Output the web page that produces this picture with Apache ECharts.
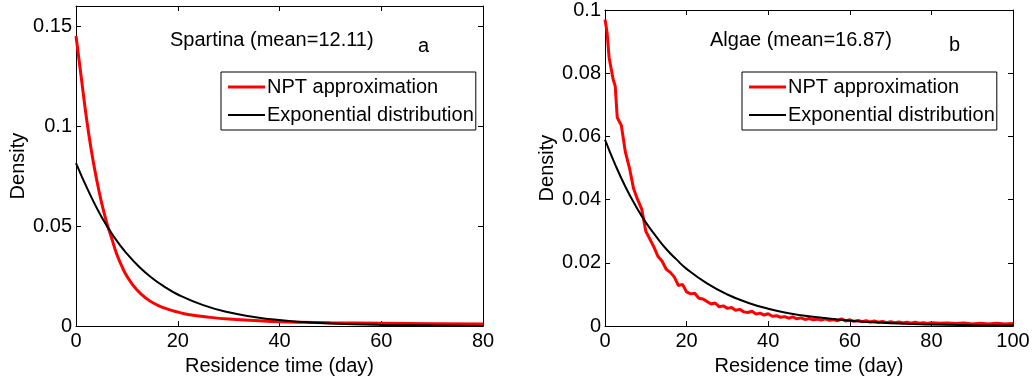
<!DOCTYPE html>
<html>
<head>
<meta charset="utf-8">
<script src="https://cdn.jsdelivr.net/npm/echarts@6/dist/echarts.min.js"></script>
<style>
	html,body{margin:0;padding:0;background:#fff;}
	#wrap{width:1033px;height:381px;}
</style>
</head>
<body>
<div id="wrap"></div>
<script>
// panel a - Spartina
var daysA_npt = [0, 1, 2, 3, 4, 5, 6, 7, 8, 9, 10, 12, 14, 16, 18, 20, 22, 25, 30, 35, 40, 50, 60, 70, 80];
var valsA_npt = [0.145, 0.125, 0.105, 0.088, 0.074, 0.062, 0.052, 0.044, 0.036, 0.030, 0.025, 0.018, 0.0135, 0.0105, 0.0085, 0.007, 0.0058, 0.0048, 0.0035, 0.0028, 0.0022, 0.0017, 0.0014, 0.0012, 0.001];
var daysA_exp = [0, 2.5, 5, 7.5, 10, 12.5, 15, 17.5, 20, 25, 30, 35, 40, 45, 50, 60, 70, 80];
var valsA_exp = [0.0815, 0.0672, 0.0547, 0.0445, 0.0362, 0.0294, 0.0239, 0.0195, 0.0158, 0.0105, 0.0069, 0.0046, 0.0030, 0.0020, 0.0013, 0.0006, 0.0003, 0.0001];

// panel b - Algae
var daysB_npt = [0, 0.5, 1, 2, 2.5, 3, 4, 5, 6, 7, 8, 9, 10, 11, 12, 13, 14, 15, 16, 17, 18, 19, 20, 21, 22, 23, 24, 25, 26, 27, 28, 29, 30,
	31, 32, 33, 34, 35, 36, 37, 38, 39, 40, 41, 42, 43, 44, 45, 46, 47, 48, 49, 50, 51, 52, 53, 54, 55, 56, 57, 58, 59, 60,
	61, 62, 63, 64, 65, 66, 67, 68, 69, 70, 71, 72, 73, 74, 75, 76, 77, 78, 79, 80, 82, 84, 86, 88, 90, 92, 94, 96, 98, 100];
var valsB_npt = [0.097, 0.093, 0.085, 0.078, 0.076, 0.066, 0.0635, 0.055, 0.050, 0.0435, 0.040, 0.037, 0.030, 0.0275, 0.025, 0.022, 0.0205, 0.018, 0.017, 0.0155, 0.0128, 0.0132, 0.0108,
	0.0102, 0.0104, 0.0088, 0.0086, 0.0078, 0.0070, 0.0073, 0.0061, 0.0064, 0.0056,
	0.0059, 0.0050, 0.0053, 0.0045, 0.0043, 0.0047, 0.0038, 0.0041, 0.0035, 0.0039, 0.0031, 0.0033, 0.0028, 0.0030, 0.0025, 0.0029, 0.0023, 0.0026, 0.0021, 0.0024,
	0.0020, 0.0022, 0.0019, 0.0023, 0.0018, 0.0021, 0.0017, 0.0023, 0.0016, 0.0020,
	0.0015, 0.0018, 0.0014, 0.0017, 0.0013, 0.0016, 0.0012, 0.0015, 0.0011, 0.0014, 0.0011, 0.0013, 0.0010, 0.0012, 0.0009, 0.0012, 0.0009, 0.0011, 0.0008, 0.0011,
	0.0009, 0.0010, 0.0008, 0.0010, 0.0007, 0.0009, 0.0007, 0.0009, 0.0007, 0.0008];
var daysB_exp = [0, 2.5, 5, 7.5, 10, 12.5, 15, 17.5, 20, 25, 30, 35, 40, 45, 50, 60, 70, 80, 90, 100];
var valsB_exp = [0.0590, 0.0511, 0.0441, 0.0381, 0.0328, 0.0284, 0.0244, 0.0211, 0.0181, 0.0135, 0.0100, 0.0074, 0.0055, 0.0041, 0.0031, 0.0017, 0.0009, 0.0005, 0.0003, 0.0002];

var xTicksA = [0, 20, 40, 60, 80];
var yTicksA = [0, 0.05, 0.1, 0.15];
var xTicksB = [0, 20, 40, 60, 80, 100];
var yTicksB = [0, 0.02, 0.04, 0.06, 0.08, 0.1];

var titles = ["Spartina (mean=12.11)", "Algae (mean=16.87)"];
var panelTags = ["a", "b"];
var seriesNames = ["NPT approximation", "Exponential distribution"];

var fontFamily = "Liberation Sans, Arial, sans-serif";
var fontSize = 20;
var textColor = "#000";

function zip(xs, ys){
	var out = [];
	for(var i=0;i<xs.length;i++){
		out.push([xs[i], ys[i]]);
	}
	return out;
}

function onTick(ticks){
	return function(v){
		for(var i=0;i<ticks.length;i++){
			if(Math.abs(ticks[i]-v) < 1e-9) return String(ticks[i]);
		}
		return "";
	};
}

function mainX(grid, ticks){
	return {
		type:"value", gridIndex:grid, min:ticks[0], max:ticks[ticks.length-1], interval:ticks[1]-ticks[0],
		name:"Residence time (day)", nameLocation:"middle", nameGap:26,
		nameTextStyle:{color:textColor, fontSize:fontSize, fontFamily:fontFamily},
		axisLine:{lineStyle:{color:textColor, width:1}},
		axisTick:{inside:true, length:5, lineStyle:{color:textColor}},
		axisLabel:{color:textColor, fontSize:fontSize, fontFamily:fontFamily, margin:5, formatter:onTick(ticks)},
		splitLine:{show:false}
	};
}
function mainY(grid, ticks, max){
	return {
		type:"value", gridIndex:grid, min:0, max:max, interval:ticks[1]-ticks[0],
		name:"Density", nameLocation:"middle", nameGap:48,
		nameTextStyle:{color:textColor, fontSize:fontSize, fontFamily:fontFamily},
		axisLine:{lineStyle:{color:textColor, width:1}},
		axisTick:{inside:true, length:5, lineStyle:{color:textColor}},
		axisLabel:{color:textColor, fontSize:fontSize, fontFamily:fontFamily, margin:4, formatter:onTick(ticks)},
		splitLine:{show:false}
	};
}
function boxAxis(grid, ticks, max, pos){
	return {
		type:"value", gridIndex:grid, position:pos, min:0, max:max, interval:ticks[1]-ticks[0],
		axisLine:{show:true, onZero:false, lineStyle:{color:textColor, width:1}},
		axisTick:{show:true, inside:true, length:5, lineStyle:{color:textColor}},
		axisLabel:{show:false},
		splitLine:{show:false}
	};
}

// legend keys drawn as plain line strokes, red thicker than black
var redKey = "path://M0,0h37v3h-37z";
var blackKey = "path://M0,0h0.01v0.01h-0.01z M0,0.5h37v2h-37z M0,2.99h0.01v0.01h-0.01z";

function legendAt(left, top){
	return {
		left:left, top:top, orient:"vertical",
		data:[
			{name:seriesNames[0], icon:redKey, itemStyle:{color:"#ff0000"}},
			{name:seriesNames[1], icon:blackKey, itemStyle:{color:"#000"}}
		],
		selectedMode:false,
		borderColor:textColor, borderWidth:1, borderRadius:0,
		padding:[5,2,5,7],
		itemWidth:37, itemHeight:3, itemGap:8,
		textStyle:{color:textColor, fontSize:fontSize, fontFamily:fontFamily, padding:[0,0,0,-3]}
	};
}

function label(text, left, top){
	return {
		text:text, left:left, top:top, padding:0,
		textStyle:{color:textColor, fontSize:fontSize, fontWeight:"normal", fontFamily:fontFamily}
	};
}

var myChart = echarts.init(document.getElementById("wrap"));
var option = {
	animation:false,
	backgroundColor:"#fff",
	title:[
		label(titles[0], 170, 30),
		label(panelTags[0], 418, 36),
		label(titles[1], 710, 30),
		label(panelTags[1], 949, 35)
	],
	legend:[
		legendAt(221, 72),
		legendAt(742, 72)
	],
	grid:[
		{left:76, right:550, top:6, bottom:54},
		{left:605, right:20, top:6, bottom:54}
	],
	xAxis:[
		mainX(0, xTicksA),
		boxAxis(0, xTicksA, 80, "top"),
		mainX(1, xTicksB),
		boxAxis(1, xTicksB, 100, "top")
	],
	yAxis:[
		mainY(0, yTicksA, 0.16),
		boxAxis(0, yTicksA, 0.16, "right"),
		mainY(1, yTicksB, 0.1),
		boxAxis(1, yTicksB, 0.1, "right")
	],
	series:[
		{
			name:seriesNames[0], type:"line", xAxisIndex:0, yAxisIndex:0, smooth:true, symbol:"none",
			lineStyle:{color:"#ff0000", width:3}, itemStyle:{color:"#ff0000"},
			data:zip(daysA_npt, valsA_npt)
		},
		{
			name:seriesNames[1], type:"line", xAxisIndex:0, yAxisIndex:0, smooth:true, symbol:"none",
			lineStyle:{color:"#000", width:2}, itemStyle:{color:"#000"},
			data:zip(daysA_exp, valsA_exp)
		},
		{
			name:seriesNames[0], type:"line", xAxisIndex:2, yAxisIndex:2, symbol:"none",
			lineStyle:{color:"#ff0000", width:3}, itemStyle:{color:"#ff0000"},
			data:zip(daysB_npt, valsB_npt)
		},
		{
			name:seriesNames[1], type:"line", xAxisIndex:2, yAxisIndex:2, smooth:true, symbol:"none",
			lineStyle:{color:"#000", width:2}, itemStyle:{color:"#000"},
			data:zip(daysB_exp, valsB_exp)
		}
	]
};
myChart.setOption(option);
</script>
</body>
</html>
